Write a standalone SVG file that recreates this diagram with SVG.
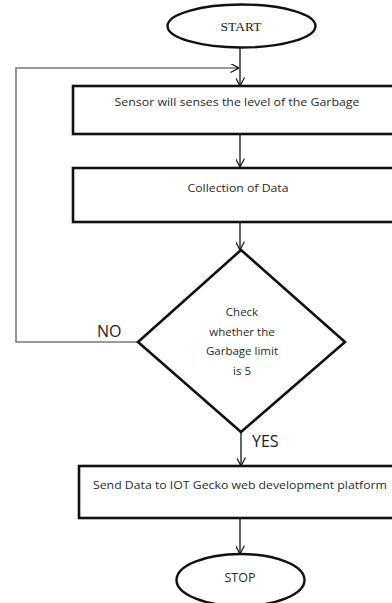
<svg xmlns="http://www.w3.org/2000/svg" width="392" height="603" viewBox="0 0 392 603">
  <defs>
    <marker id="open-arrow" viewBox="0 0 10 10" refX="9.5" refY="5" markerWidth="9" markerHeight="9" markerUnits="userSpaceOnUse" orient="auto">
      <path d="M0,0 L9.5,5 L0,10" fill="none" stroke="#111" stroke-width="1.3"/>
    </marker>
  </defs>
  <style>
    .box { fill: #fff; stroke: #111; stroke-width: 2.6; }
    .term { fill: #fff; stroke: #111; stroke-width: 2.4; }
    .flow { fill: none; stroke: #111; stroke-width: 1.3; marker-end: url(#open-arrow); }
    .loop { fill: none; stroke: #7a7a7a; stroke-width: 1.6; }
    .lbl { font-family: "Open Sans", "Liberation Sans", sans-serif; font-size: 10.5px; fill: #2a2a2a; text-anchor: middle; }
    .dec { font-size: 11.5px; }
    .big { font-size: 12.5px; }
    .serif { font-family: "Liberation Serif", serif; font-size: 13.5px; fill: #222; text-anchor: middle; }
    .yn { font-family: "Open Sans", "Liberation Sans", sans-serif; font-size: 16px; fill: #222; }
  </style>
  <rect width="392" height="603" fill="#fff"/>

  <!-- connectors -->
  <g id="connectors">
    <path class="loop" d="M138,342 H16 V68 H236"/>
    <path class="flow" d="M236,68 H239"/>
    <path class="flow" d="M240,48 V86"/>
    <path class="flow" d="M240,134 V167"/>
    <path class="flow" d="M240,223 V250"/>
    <path class="flow" d="M241,432 V466"/>
    <path class="flow" d="M240,518 V554"/>
  </g>

  <g id="start">
    <ellipse class="term" cx="241.5" cy="26" rx="74" ry="21.5"/>
    <text class="serif" x="241" y="31">START</text>
  </g>

  <g id="sense">
    <rect class="box" x="73" y="86" width="330" height="48"/>
    <text class="lbl" x="237" y="106" textLength="245" lengthAdjust="spacingAndGlyphs">Sensor will senses the level of the Garbage</text>
  </g>

  <g id="collect">
    <rect class="box" x="73" y="168" width="330" height="54"/>
    <text class="lbl" x="238" y="192" textLength="101" lengthAdjust="spacingAndGlyphs">Collection of Data</text>
  </g>

  <g id="check">
    <polygon class="box" points="241,250 345,342 241,432 138,342" stroke-width="2.2"/>
    <text class="lbl dec" x="242" y="316">Check</text>
    <text class="lbl dec" x="242" y="336">whether the</text>
    <text class="lbl dec" x="242" y="355">Garbage limit</text>
    <text class="lbl dec" x="242" y="375">is 5</text>
    <text class="yn" x="97" y="337">NO</text>
    <text class="yn" x="252" y="447">YES</text>
  </g>

  <g id="send">
    <rect class="box" x="79" y="466" width="330" height="52"/>
    <text class="lbl" x="240" y="489" textLength="294" lengthAdjust="spacingAndGlyphs">Send Data to IOT Gecko web development platform</text>
  </g>

  <g id="stop">
    <ellipse class="term" cx="240.5" cy="580" rx="64" ry="26"/>
    <text class="lbl big" x="240" y="582">STOP</text>
  </g>
</svg>
